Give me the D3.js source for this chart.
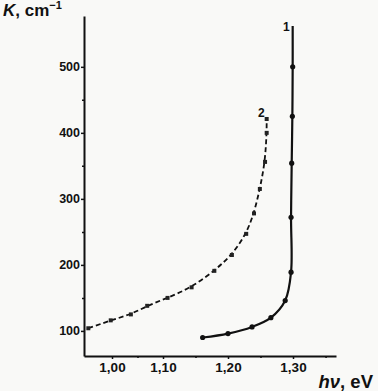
<!DOCTYPE html>
<html>
<head>
<meta charset="utf-8">
<script src="https://cdn.jsdelivr.net/npm/d3@7"></script>
<style>
  body { margin: 0; background: #f9f9f7; }
  svg { display: block; }
  text { font-family: "Liberation Sans", Arial, sans-serif; font-weight: bold; fill: #111; }
</style>
</head>
<body>
<div class="chart"></div>
<script>
// curve 1: photon energy (eV) and absorption K (cm^-1), filled dots
var curve1 = [
  [1.161, 90], [1.200, 96], [1.237, 106], [1.266, 120], [1.288, 146],
  [1.297, 189], [1.297, 272], [1.298, 354], [1.299, 425], [1.2995, 500]
];
var curve1End = [1.2995, 562];
// curve 2: dashed, square markers
var curve2 = [
  [0.9535, 104], [0.9975, 116], [1.037, 125], [1.069, 138], [1.107, 150],
  [1.144, 166], [1.179, 191], [1.206, 215], [1.228, 247], [1.240, 278],
  [1.249, 315], [1.257, 356], [1.2595, 400], [1.2595, 421]
];
var xMajor = [1.00, 1.10, 1.20, 1.30];
var xMinor = [1.05, 1.15, 1.25, 1.35];
var yMajor = [100, 200, 300, 400, 500];
var yMinor = [150, 250, 350, 450];

var width = 378, height = 391;

var svg = d3.select('.chart')
  .append('svg')
  .attr('width', width)
  .attr('height', height);

// the printed x axis is not evenly spaced, so use a piecewise scale
var x = d3.scaleLinear()
  .domain([0.945, 1.00, 1.10, 1.20, 1.30, 1.366])
  .range([84, 112, 163, 228, 293, 336]);

var y = d3.scaleLinear()
  .domain([62, 577])
  .range([356, 16]);

var fmt = function(d) { return d.toFixed(2).replace('.', ','); };

// y axis
svg.append('g')
  .attr('transform', 'translate(' + x(0.945) + ',0)')
  .call(d3.axisLeft(y).tickValues(yMajor).tickSize(3).tickSizeOuter(0).tickPadding(1));
svg.append('g')
  .attr('transform', 'translate(' + x(0.945) + ',0)')
  .call(d3.axisLeft(y).tickValues(yMinor).tickSize(2).tickSizeOuter(0).tickFormat(''))
  .select('.domain').remove();

// x axis
svg.append('g')
  .attr('class', 'xax')
  .attr('transform', 'translate(0,' + y(62) + ')')
  .call(d3.axisBottom(x).tickValues(xMajor).tickSize(3).tickSizeOuter(0).tickFormat(fmt).tickPadding(3));
svg.append('g')
  .attr('transform', 'translate(0,' + y(62) + ')')
  .call(d3.axisBottom(x).tickValues(xMinor).tickSize(2).tickSizeOuter(0).tickFormat(''))
  .select('.domain').remove();

svg.selectAll('.domain').attr('stroke', '#111').attr('stroke-width', 2);
svg.selectAll('.tick line').attr('stroke', '#111').attr('stroke-width', 1.5);
svg.selectAll('.tick text').attr('font-size', 12.5).attr('font-family', '"Liberation Sans", Arial, sans-serif').attr('font-weight', 'bold').attr('fill', '#111');
svg.selectAll('.xax .tick text').attr('font-size', 13.5);

var line1 = d3.line()
  .x(function(d) { return x(d[0]); })
  .y(function(d) { return y(d[1]); })
  .curve(d3.curveCatmullRom.alpha(0.5));

var line2 = d3.line()
  .x(function(d) { return x(d[0]); })
  .y(function(d) { return y(d[1]); })
  .curve(d3.curveBasis);

svg.append('path')
  .datum(curve1.concat([curve1End]))
  .attr('d', line1)
  .attr('fill', 'none')
  .attr('stroke', '#111')
  .attr('stroke-width', 2.2);

svg.append('path')
  .datum(curve2)
  .attr('d', line2)
  .attr('fill', 'none')
  .attr('stroke', '#111')
  .attr('stroke-width', 1.8)
  .attr('stroke-dasharray', '5,3');

svg.selectAll('.dot1')
  .data(curve1)
  .enter().append('circle')
  .attr('cx', function(d) { return x(d[0]); })
  .attr('cy', function(d) { return y(d[1]); })
  .attr('r', 2.6)
  .attr('fill', '#111');

svg.selectAll('.sq2')
  .data(curve2)
  .enter().append('rect')
  .attr('x', function(d) { return x(d[0]) - 2; })
  .attr('y', function(d) { return y(d[1]) - 2; })
  .attr('width', 4)
  .attr('height', 4)
  .attr('fill', '#222');

// curve labels
svg.append('text')
  .attr('x', x(curve1End[0]) - 3).attr('y', y(curve1End[1]) + 5)
  .attr('text-anchor', 'end').attr('font-size', 12).text('1');
svg.append('text')
  .attr('x', x(curve2[curve2.length - 1][0]) - 2).attr('y', y(curve2[curve2.length - 1][1]) - 2)
  .attr('text-anchor', 'end').attr('font-size', 12).text('2');

// axis titles
var yt = svg.append('text').attr('x', 3).attr('y', 16).attr('font-size', 17);
yt.append('tspan').attr('font-style', 'italic').text('K');
yt.append('tspan').text(', cm');
yt.append('tspan').attr('font-size', 11).attr('dy', -7).text('\u22121');

var xt = svg.append('text').attr('x', 373).attr('y', 388).attr('font-size', 18.5).attr('text-anchor', 'end');
xt.append('tspan').attr('font-style', 'italic').text('h\u03BD');
xt.append('tspan').text(', eV');
</script>
</body>
</html>
